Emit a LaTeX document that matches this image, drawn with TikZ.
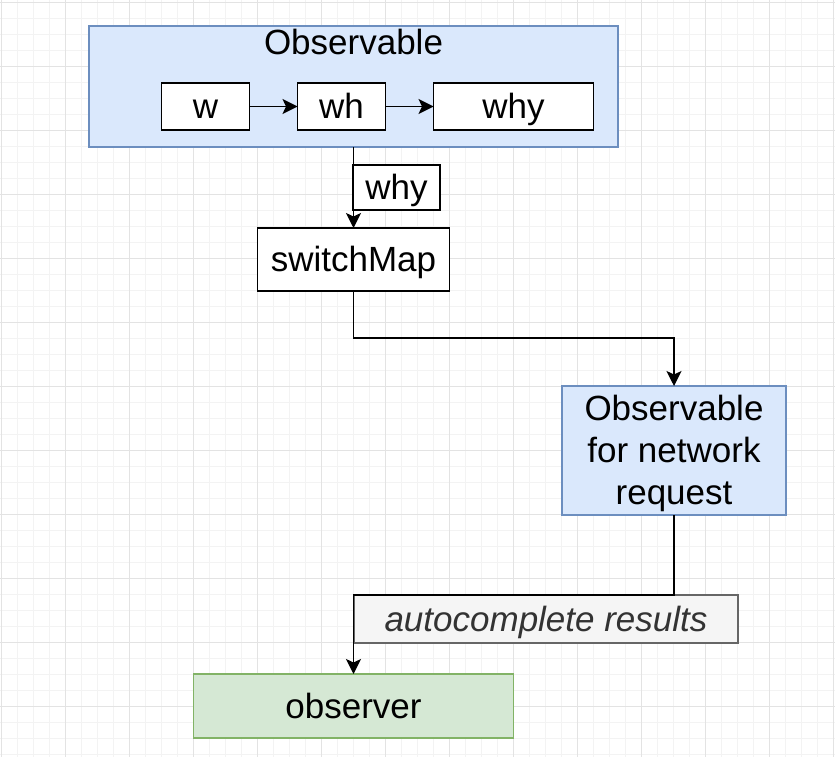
\documentclass[tikz,border=0pt]{standalone}
\usepackage{fontspec}
\setmainfont{Liberation Sans}
\usetikzlibrary{arrows.meta}
\definecolor{blueF}{HTML}{DAE8FC}
\definecolor{blueD}{HTML}{6C8EBF}
\definecolor{greenF}{HTML}{D5E8D4}
\definecolor{greenD}{HTML}{82B366}
\definecolor{grayF}{HTML}{F5F5F5}
\definecolor{grayD}{HTML}{666666}
\definecolor{grayT}{HTML}{333333}
\definecolor{gridMinor}{HTML}{F3F3F3}
\definecolor{gridMajor}{HTML}{E3E3E3}
\begin{document}
\begin{tikzpicture}[x=1pt,y=-1pt,
  every node/.style={font=\fontsize{35}{41}\selectfont, inner sep=0pt, outer sep=0pt},
  fixtext/.style={text height=31.5pt, text depth=7.35pt},
  plainbox/.style={draw=black, fill=white, line width=1.5pt, fixtext},
  bluebox/.style={draw=blueD, fill=blueF, line width=1.5pt},
  greenbox/.style={draw=greenD, fill=greenF, line width=1.5pt, fixtext},
  graylabel/.style={draw=grayD, fill=grayF, line width=1.5pt, text=grayT, fixtext, font=\fontsize{35}{41}\selectfont\itshape},
  conn/.style={draw=black, line width=1.5pt, -{Stealth[length=15pt 0 0,width=15pt 0 0,inset=3.5pt 0 0]}}
]
\useasboundingbox (0,0) rectangle (835,757);
\fill[white] (0,0) rectangle (835,757);
% grid
\foreach \k in {0,...,52} {
  \draw[gridMinor, line width=0.8pt] ({1+16*\k},0) -- ({1+16*\k},757);
}
\foreach \k in {0,...,47} {
  \draw[gridMinor, line width=0.8pt] (0,{2+16*\k}) -- (835,{2+16*\k});
}
\foreach \k in {0,...,13} {
  \draw[gridMajor, line width=0.8pt] ({1+64*\k},0) -- ({1+64*\k},757);
}
\foreach \k in {0,...,11} {
  \draw[gridMajor, line width=0.8pt] (0,{2+64*\k}) -- (835,{2+64*\k});
}

% outer observable container
\node[bluebox, minimum width=529pt, minimum height=121pt] (obs) at (353.5,86.5) {};
\node[anchor=base] (obstitle) at (353.5,55) {Observable};
\node[plainbox, minimum width=88pt, minimum height=47pt] (w) at (205.5,106.5) {w};
\node[plainbox, minimum width=88pt, minimum height=47pt] (wh) at (341.5,106.5) {wh};
\node[plainbox, minimum width=160pt, minimum height=47pt] (why) at (513.5,106.5) {why};

% switchMap
\node[plainbox, minimum width=192pt, minimum height=63pt] (sm) at (353.5,259.5) {switchMap};
\node[plainbox, minimum width=87pt, minimum height=45pt] (whylbl) at (396.5,187.5) {why};

% network observable
\node[bluebox, minimum width=224pt, minimum height=129pt] (net) at (674,450.5) {};
\node[align=center, font=\fontsize{35}{42}\selectfont] (nettext) at (674,453.5)
  {Observable\\for network\\request};

% observer
\node[greenbox, minimum width=320pt, minimum height=64pt] (obsr) at (353.5,706) {observer};
\node[graylabel, minimum width=384pt, minimum height=48pt] (acr) at (546,619) {autocomplete results};

% connectors
\draw[conn] (w) -- (wh);
\draw[conn] (wh) -- (why);
\draw[conn] (obs.south) -- (sm.north);
\draw[conn] (sm.south) -- ++(0,47) -| (net.north);
\draw[conn] (net.south) -- ++(0,80) -| (obsr.north);
\end{tikzpicture}
\end{document}
